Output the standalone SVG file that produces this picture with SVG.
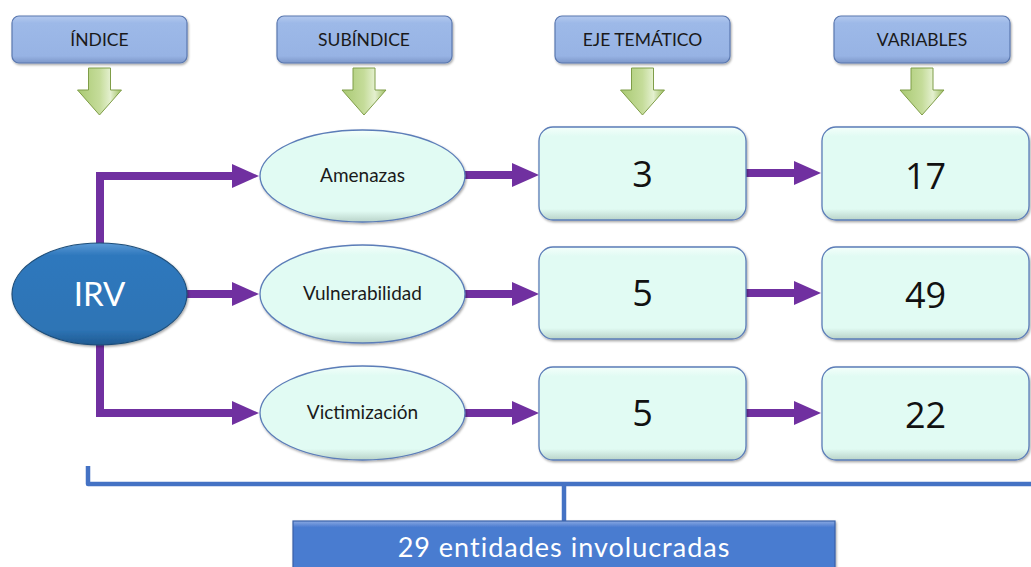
<svg xmlns="http://www.w3.org/2000/svg" width="1031" height="567" viewBox="0 0 1031 567">
  <defs>
    <linearGradient id="hdrGrad" x1="0" y1="0" x2="0" y2="1">
      <stop offset="0" stop-color="#b4c9ee"/>
      <stop offset="0.15" stop-color="#9db9e8"/>
      <stop offset="0.85" stop-color="#97b3e4"/>
      <stop offset="1" stop-color="#7d97c9"/>
    </linearGradient>
    <linearGradient id="greenGrad" x1="0" y1="0" x2="1" y2="0">
      <stop offset="0" stop-color="#a9c972"/>
      <stop offset="0.5" stop-color="#c5dc9a"/>
      <stop offset="0.75" stop-color="#e4f0cf"/>
      <stop offset="1" stop-color="#9cbd5e"/>
    </linearGradient>
    <linearGradient id="mintGrad" x1="0" y1="0" x2="0" y2="1">
      <stop offset="0" stop-color="#f4fffb"/>
      <stop offset="0.1" stop-color="#e1fbf3"/>
      <stop offset="0.88" stop-color="#e1fbf3"/>
      <stop offset="1" stop-color="#b9d3c9"/>
    </linearGradient>
    <linearGradient id="irvGrad" x1="0" y1="0" x2="0" y2="1">
      <stop offset="0" stop-color="#5c9ad6"/>
      <stop offset="0.12" stop-color="#2f78bd"/>
      <stop offset="0.85" stop-color="#2e74b5"/>
      <stop offset="1" stop-color="#1f5a92"/>
    </linearGradient>
    <linearGradient id="bottomGrad" x1="0" y1="0" x2="0" y2="1">
      <stop offset="0" stop-color="#8aa9e2"/>
      <stop offset="0.12" stop-color="#4a7bd0"/>
      <stop offset="1" stop-color="#4a7bd0"/>
    </linearGradient>
    <filter id="shadow" x="-10%" y="-10%" width="120%" height="130%">
      <feDropShadow dx="1" dy="1.5" stdDeviation="1.2" flood-color="#000" flood-opacity="0.35"/>
    </filter>
    <marker id="head" markerUnits="userSpaceOnUse" markerWidth="28" markerHeight="24" refX="1" refY="12" orient="auto">
      <path d="M0,0 L27,12 L0,24 Z" fill="#7030a0"/>
    </marker>
    <path id="greenArrow" d="M-11,68 H11 V90 H22 L0,115 L-22,90 H-11 Z"/>
    <style>
      .hdr { fill: url(#hdrGrad); stroke: #5a78b0; stroke-width: 1.2; filter: url(#shadow); }
      .hdrText { font-family: Lato, "Open Sans", sans-serif; font-size: 17.5px; fill: #1a1a1a; text-anchor: middle; }
      .garrow { fill: url(#greenGrad); stroke: #7f9d48; stroke-width: 1; }
      .mint { fill: url(#mintGrad); stroke: #5b7db8; stroke-width: 1.3; filter: url(#shadow); }
      .ellText { font-family: Lato, "Open Sans", sans-serif; font-size: 19px; fill: #1a1a1a; text-anchor: middle; }
      .numText { font-family: "Open Sans", Lato, sans-serif; font-size: 36px; fill: #111; text-anchor: middle; }
      .conn { fill: none; stroke: #7030a0; stroke-width: 8; stroke-linejoin: miter; marker-end: url(#head); }
      .bracket { fill: none; stroke: #4472c4; stroke-width: 4.5; stroke-linejoin: round; }
    </style>
  </defs>

  <g id="header-indice">
    <rect class="hdr" x="12" y="16" width="175" height="47" rx="7"/>
    <text class="hdrText" x="99.5" y="46">ÍNDICE</text>
    <use href="#greenArrow" class="garrow" transform="translate(99.5,0)"/>
  </g>
  <g id="header-subindice">
    <rect class="hdr" x="277" y="16" width="175" height="47" rx="7"/>
    <text class="hdrText" x="364" y="46">SUBÍNDICE</text>
    <use href="#greenArrow" class="garrow" transform="translate(364,0)"/>
  </g>
  <g id="header-eje">
    <rect class="hdr" x="555" y="16" width="175" height="47" rx="7"/>
    <text class="hdrText" x="642.5" y="46">EJE TEMÁTICO</text>
    <use href="#greenArrow" class="garrow" transform="translate(642.5,0)"/>
  </g>
  <g id="header-variables">
    <rect class="hdr" x="834" y="16" width="176" height="47" rx="7"/>
    <text class="hdrText" x="922" y="46">VARIABLES</text>
    <use href="#greenArrow" class="garrow" transform="translate(922,0)"/>
  </g>

  <g id="connectors">
    <path class="conn" d="M100,247 V176 H233"/>
    <path class="conn" d="M185,294 H233"/>
    <path class="conn" d="M100,341 V413 H233"/>
    <path class="conn" d="M463,175 H513"/>
    <path class="conn" d="M463,294 H513"/>
    <path class="conn" d="M463,413 H513"/>
    <path class="conn" d="M745,173 H795"/>
    <path class="conn" d="M745,293 H795"/>
    <path class="conn" d="M745,413 H795"/>
  </g>

  <g id="node-irv">
    <ellipse cx="99.5" cy="294" rx="87.5" ry="51" fill="url(#irvGrad)" stroke="#1f4e79" stroke-width="1.2" filter="url(#shadow)"/>
    <text x="99.5" y="306" font-family="Lato, 'Open Sans', sans-serif" font-size="33" fill="#ffffff" text-anchor="middle">IRV</text>
  </g>

  <g id="node-amenazas">
    <ellipse class="mint" cx="362.5" cy="176" rx="102.5" ry="46"/>
    <text class="ellText" x="362.5" y="182">Amenazas</text>
  </g>
  <g id="node-vulnerabilidad">
    <ellipse class="mint" cx="362.5" cy="294" rx="102.5" ry="49"/>
    <text class="ellText" x="362.5" y="300">Vulnerabilidad</text>
  </g>
  <g id="node-victimizacion">
    <ellipse class="mint" cx="362.5" cy="413" rx="102.5" ry="47"/>
    <text class="ellText" x="362.5" y="419">Victimización</text>
  </g>

  <g id="node-eje-amenazas">
    <rect class="mint" x="539" y="127" width="207" height="93" rx="14"/>
    <text class="numText" x="642.5" y="187">3</text>
  </g>
  <g id="node-eje-vulnerabilidad">
    <rect class="mint" x="539" y="247" width="207" height="92" rx="14"/>
    <text class="numText" x="642.5" y="306">5</text>
  </g>
  <g id="node-eje-victimizacion">
    <rect class="mint" x="539" y="367" width="207" height="93" rx="14"/>
    <text class="numText" x="642.5" y="426">5</text>
  </g>

  <g id="node-var-amenazas">
    <rect class="mint" x="822" y="127" width="207" height="93" rx="14"/>
    <text class="numText" x="925.5" y="189" font-size="39">17</text>
  </g>
  <g id="node-var-vulnerabilidad">
    <rect class="mint" x="822" y="247" width="207" height="92" rx="14"/>
    <text class="numText" x="925.5" y="308" font-size="39">49</text>
  </g>
  <g id="node-var-victimizacion">
    <rect class="mint" x="822" y="367" width="207" height="93" rx="14"/>
    <text class="numText" x="925.5" y="428" font-size="39">22</text>
  </g>

  <g id="bracket">
    <path class="bracket" d="M88,466 V484 H1031"/>
    <path class="bracket" d="M564,484 V522"/>
  </g>

  <g id="node-entidades">
    <rect x="293" y="521" width="542" height="52" fill="url(#bottomGrad)" stroke="#3a62a8" stroke-width="1.2" filter="url(#shadow)"/>
    <text x="564" y="557" font-family="Lato, 'Open Sans', sans-serif" font-size="27" letter-spacing="1" fill="#ffffff" text-anchor="middle">29 entidades involucradas</text>
  </g>
</svg>
